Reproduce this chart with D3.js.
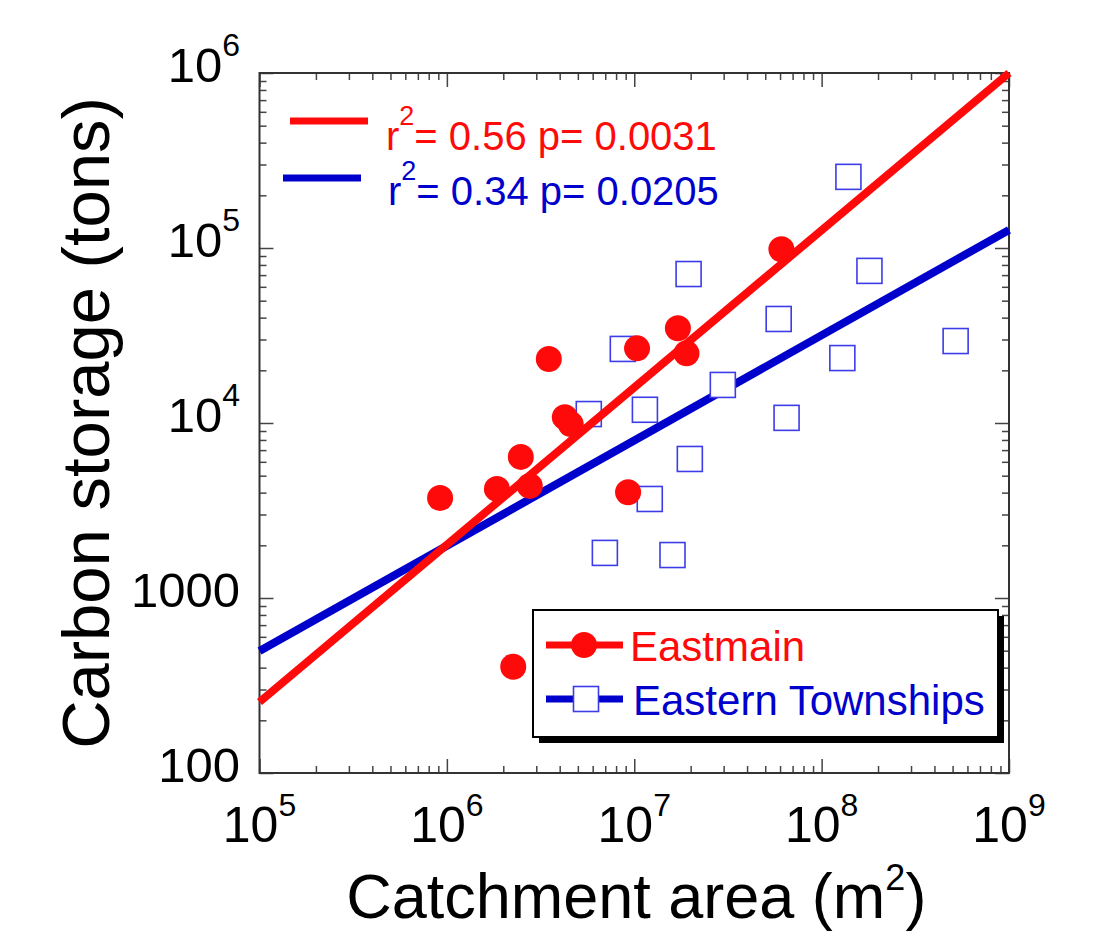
<!DOCTYPE html>
<html>
<head>
<meta charset="utf-8">
<script src="https://cdn.jsdelivr.net/npm/d3@7"></script>
<style>
  body { margin: 0; background: #fff; }
  text { font-family: "Liberation Sans", Arial, sans-serif; }
</style>
</head>
<body>
<div id="chart"></div>
<script>
// data
var seriesNames = ["Eastmain", "Eastern Townships"];
var eastmainArea = [9.2e5, 1.85e6, 2.48e6, 2.77e6, 3.5e6, 4.26e6, 4.58e6, 9.27e6, 1.035e7, 1.71e7, 1.9e7, 6.1e7, 2.26e6];
var eastmainCarbon = [3730, 4200, 6400, 4370, 23200, 10800, 9860, 4020, 26700, 34800, 25000, 98400, 405];
var townshipsArea = [5.72e6, 8.69e6, 1.14e7, 1.21e7, 6.97e6, 1.6e7, 1.98e7, 1.95e7, 2.97e7, 5.9e7, 6.5e7, 1.29e8, 1.39e8, 1.8e8, 5.19e8];
var townshipsCarbon = [11250, 26500, 11900, 3680, 1810, 1760, 6230, 71000, 16500, 39300, 10700, 23500, 255000, 74000, 29400];
// log10(carbon) = slope * log10(area) + intercept
var fitSlope = [0.8985, 0.6015];
var fitIntercept = [-2.0865, -0.3105];
var fitR2 = ["0.56", "0.34"];
var fitP = ["0.0031", "0.0205"];
var xMajor = [1e5, 1e6, 1e7, 1e8, 1e9];
var yMajor = [100, 1000, 1e4, 1e5, 1e6];

var width = 1095, height = 943;
var plotL = 259.5, plotR = 1009, plotT = 73, plotB = 773;
var red = "#ff0a0a", blue = "#0000cc", squareBlue = "#3c3ce8";

var svg = d3.select("#chart").append("svg")
  .attr("width", width)
  .attr("height", height);

var x = d3.scaleLog().domain([1e5, 1e9]).range([plotL, plotR]);
var y = d3.scaleLog().domain([100, 1e6]).range([plotB, plotT]);

var xMinor = x.ticks().filter(function(d) { return xMajor.indexOf(d) < 0; });
var yMinor = y.ticks().filter(function(d) { return yMajor.indexOf(d) < 0; });

// inside ticks on all four sides
function ticks(axis, vals, size, pos) {
  var g = svg.append("g")
    .attr("transform", pos)
    .call(axis.tickValues(vals).tickSizeInner(-size).tickSizeOuter(0).tickFormat(""));
  g.select(".domain").remove();
  g.selectAll(".tick line").attr("stroke", "#444").attr("stroke-width", 1.5);
}
ticks(d3.axisBottom(x), xMinor, 7, "translate(0," + plotB + ")");
ticks(d3.axisBottom(x), xMajor, 14, "translate(0," + plotB + ")");
ticks(d3.axisTop(x), xMinor, 7, "translate(0," + plotT + ")");
ticks(d3.axisTop(x), xMajor, 14, "translate(0," + plotT + ")");
ticks(d3.axisLeft(y), yMinor, 7, "translate(" + plotL + ",0)");
ticks(d3.axisLeft(y), yMajor, 14, "translate(" + plotL + ",0)");
ticks(d3.axisRight(y), yMinor, 7, "translate(" + plotR + ",0)");
ticks(d3.axisRight(y), yMajor, 14, "translate(" + plotR + ",0)");

svg.append("rect")
  .attr("x", plotL).attr("y", plotT)
  .attr("width", plotR - plotL).attr("height", plotB - plotT)
  .attr("fill", "none").attr("stroke", "#333").attr("stroke-width", 2);

// tick labels
function powLabel(sel, v) {
  var e = Math.round(Math.log10(v));
  sel.append("tspan").text("10");
  sel.append("tspan").attr("font-size", 32).attr("dy", -26).text(e);
}
xMajor.forEach(function(v) {
  var t = svg.append("text")
    .attr("x", x(v)).attr("y", plotB + 69)
    .attr("text-anchor", "middle")
    .attr("font-size", 50);
  powLabel(t, v);
});
yMajor.forEach(function(v) {
  var t = svg.append("text")
    .attr("x", 240).attr("y", y(v) + 9)
    .attr("text-anchor", "end")
    .attr("font-size", 49);
  if (v < 1e4) t.text(v);
  else powLabel(t, v);
});

// axis titles
var xt = svg.append("text")
  .attr("x", (plotL + plotR) / 2 + 2).attr("y", 918)
  .attr("text-anchor", "middle")
  .attr("font-size", 63);
xt.append("tspan").text("Catchment area (m");
xt.append("tspan").attr("font-size", 36).attr("dy", -28).text("2");
xt.append("tspan").attr("dy", 28).text(")");

svg.append("text")
  .attr("transform", "translate(109," + (plotT + plotB) / 2 + ") rotate(-90)")
  .attr("text-anchor", "middle")
  .attr("font-size", 67)
  .text("Carbon storage (tons)");

// fit lines and points
function fitLine(i) {
  return x.domain().map(function(a) {
    return [x(a), y(Math.pow(10, fitSlope[i] * Math.log10(a) + fitIntercept[i]))];
  });
}
var line = d3.line();

svg.append("path")
  .attr("d", line(fitLine(1)))
  .attr("stroke", blue).attr("stroke-width", 8).attr("fill", "none");

svg.selectAll(".sq")
  .data(townshipsArea)
  .enter()
  .append("rect")
  .attr("class", "sq")
  .attr("x", function(d) { return x(d) - 12.5; })
  .attr("y", function(d, i) { return y(townshipsCarbon[i]) - 12.5; })
  .attr("width", 25).attr("height", 25)
  .attr("fill", "#fff").attr("stroke", squareBlue).attr("stroke-width", 1.6);

svg.append("path")
  .attr("d", line(fitLine(0)))
  .attr("stroke", red).attr("stroke-width", 8).attr("fill", "none");

svg.selectAll(".dot")
  .data(eastmainArea)
  .enter()
  .append("circle")
  .attr("class", "dot")
  .attr("cx", function(d) { return x(d); })
  .attr("cy", function(d, i) { return y(eastmainCarbon[i]); })
  .attr("r", 13)
  .attr("fill", red);

// fit legend (top left)
[red, blue].forEach(function(c, i) {
  var ly = i === 0 ? 121 : 178;
  var lx = i === 0 ? 290 : 283;
  svg.append("line")
    .attr("x1", lx).attr("x2", lx + 78)
    .attr("y1", ly).attr("y2", ly)
    .attr("stroke", c).attr("stroke-width", 7);
  var t = svg.append("text")
    .attr("x", i === 0 ? 386 : 388).attr("y", i === 0 ? 150 : 205)
    .attr("font-size", 40).attr("fill", c);
  t.append("tspan").text("r");
  t.append("tspan").attr("font-size", 27).attr("dy", -25).text("2");
  t.append("tspan").attr("dy", 25).text("= " + fitR2[i] + " p= " + fitP[i]);
});

// series legend box
var lg = svg.append("g");
lg.append("rect")
  .attr("x", 539).attr("y", 616).attr("width", 465).attr("height", 127)
  .attr("fill", "#000");
lg.append("rect")
  .attr("x", 533).attr("y", 610).attr("width", 465).attr("height", 127)
  .attr("fill", "#fff").attr("stroke", "#000").attr("stroke-width", 2);
seriesNames.forEach(function(name, i) {
  var cy = i === 0 ? 645 : 699;
  var c = i === 0 ? red : blue;
  lg.append("line")
    .attr("x1", 546).attr("x2", 623)
    .attr("y1", cy).attr("y2", cy)
    .attr("stroke", c).attr("stroke-width", 7);
  if (i === 0) {
    lg.append("circle").attr("cx", 584).attr("cy", cy).attr("r", 13).attr("fill", red);
  } else {
    lg.append("rect")
      .attr("x", 586 - 12.5).attr("y", cy - 12.5)
      .attr("width", 25).attr("height", 25)
      .attr("fill", "#fff").attr("stroke", squareBlue).attr("stroke-width", 1.6);
  }
  lg.append("text")
    .attr("x", i === 0 ? 630 : 633).attr("y", cy + 16)
    .attr("font-size", 42).attr("fill", c)
    .text(name);
});
</script>
</body>
</html>
